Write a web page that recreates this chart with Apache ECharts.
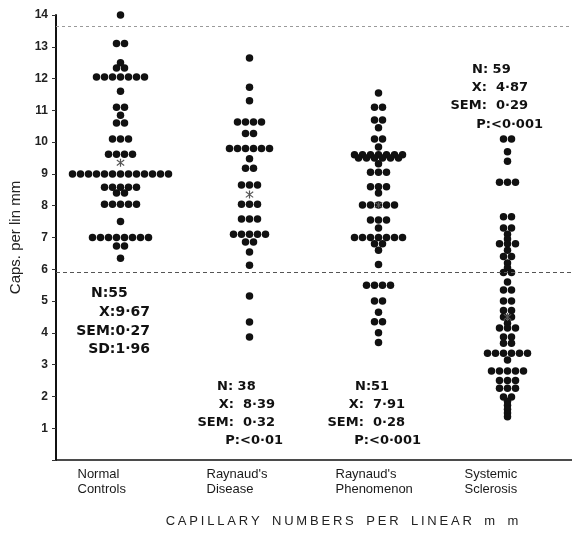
<!DOCTYPE html>
<html><head><meta charset="utf-8">
<script src="https://cdn.jsdelivr.net/npm/echarts@6/dist/echarts.min.js"></script>
<style>html,body{margin:0;padding:0;background:#fff}#c{width:572px;height:548px}</style>
</head><body><div id="c"></div>
<script>
// ---------------- data ----------------
const categories = ['Normal\nControls', "Raynaud's\nDisease", "Raynaud's\nPhenomenon", 'Systemic\nSclerosis'];

const normalControls = [
  14.0,
  13.1, 13.1,
  12.5,
  12.33, 12.33,
  12.05, 12.05, 12.05, 12.05, 12.05, 12.05, 12.05,
  11.6,
  11.1, 11.1,
  10.85,
  10.6, 10.6,
  10.1, 10.1, 10.1,
  9.62, 9.62, 9.62, 9.62,
  9.0, 9.0, 9.0, 9.0, 9.0, 9.0, 9.0, 9.0, 9.0, 9.0, 9.0, 9.0, 9.0,
  8.58, 8.58, 8.58, 8.58, 8.58,
  8.4, 8.4,
  8.05, 8.05, 8.05, 8.05, 8.05,
  7.5,
  7.0, 7.0, 7.0, 7.0, 7.0, 7.0, 7.0, 7.0,
  6.73, 6.73,
  6.35
];

const raynaudsDisease = [
  12.65, 11.73, 11.3,
  10.63, 10.63, 10.63, 10.63,
  10.27, 10.27,
  9.8, 9.8, 9.8, 9.8, 9.8, 9.8,
  9.48,
  9.18, 9.18,
  8.65, 8.65, 8.65,
  8.05, 8.05, 8.05,
  7.58, 7.58, 7.58,
  7.1, 7.1, 7.1, 7.1, 7.1,
  6.86, 6.86,
  6.54, 6.13, 5.16, 4.34, 3.87
];

const raynaudsPhenomenon = [
  11.55,
  11.1, 11.1,
  10.7, 10.7,
  10.45,
  10.1, 10.1,
  9.85,
  9.6, 9.6, 9.6, 9.6, 9.6, 9.6, 9.6,
  9.5, 9.5, 9.5, 9.5, 9.5, 9.5,
  9.32,
  9.05, 9.05, 9.05,
  8.6, 8.6, 8.6,
  8.4,
  8.02, 8.02, 8.02, 8.02, 8.02,
  7.55, 7.55, 7.55,
  7.3,
  7.0, 7.0, 7.0, 7.0, 7.0, 7.0, 7.0,
  6.8, 6.8,
  6.6, 6.15,
  5.5, 5.5, 5.5, 5.5,
  5.0, 5.0,
  4.65,
  4.35, 4.35,
  4.0, 3.7
];

const systemicSclerosis = [
  10.1, 10.1,
  9.7, 9.4,
  8.74, 8.74, 8.74,
  7.65, 7.65,
  7.3, 7.3,
  7.1, 6.95,
  6.8, 6.8, 6.8,
  6.6,
  6.4, 6.4,
  6.2, 6.05,
  5.9, 5.9,
  5.6,
  5.35, 5.35,
  5.0, 5.0,
  4.7, 4.7,
  4.5, 4.5,
  4.3,
  4.15, 4.15, 4.15,
  3.87, 3.87,
  3.67, 3.67,
  3.36, 3.36, 3.36, 3.36, 3.36, 3.36,
  3.15,
  2.8, 2.8, 2.8, 2.8, 2.8,
  2.5, 2.5, 2.5,
  2.26, 2.26, 2.26,
  1.98, 1.98,
  1.85, 1.72, 1.6, 1.48, 1.36
];

const groupMarks = [9.35, 8.35, 8.02, 4.5];     // asterisks drawn in each column
const normalRange = [13.65, 5.9];                // dotted horizontal reference lines
const yTickMax = 14;

const statsText = [
  ['N:55', 'X:9·67', 'SEM:0·27', 'SD:1·96'],
  ['N: 38', 'X:  8·39', 'SEM:  0·32', 'P:<0·01'],
  ['N:51', 'X:  7·91', 'SEM:  0·28', 'P:<0·001'],
  ['N: 59', 'X:  4·87', 'SEM:  0·29', 'P:<0·001']
];
const xTitle = 'CAPILLARY NUMBERS PER LINEAR m m';
const yTitle = 'Caps. per lin mm';

// ---------------- layout (not data) ----------------
const DOT = 7.5, GAP = 8;
const statsLayout = [
  {size: 14, lines: [[91, 293, 'left'], [150, 312, 'right'], [150, 331, 'right'], [150, 349, 'right']]},
  {size: 13, lines: [[217, 387, 'left'], [275, 405, 'right'], [275, 423, 'right'], [283, 441, 'right']]},
  {size: 13, lines: [[355, 387, 'left'], [405, 405, 'right'], [405, 423, 'right'], [421, 441, 'right']]},
  {size: 13, lines: [[472, 70, 'left'], [528, 88, 'right'], [528, 106, 'right'], [543, 125, 'right']]}
];

function swarm(values, ci) {
  const counts = {}, seen = {};
  values.forEach(v => { const k = v.toFixed(2); counts[k] = (counts[k] || 0) + 1; });
  return values.map(v => {
    const k = v.toFixed(2);
    const i = seen[k] = (seen[k] === undefined ? 0 : seen[k] + 1);
    const dx = (i - (counts[k] - 1) / 2) * GAP;
    return {value: [ci, v], symbolOffset: [dx, 0]};
  });
}

const groups = [normalControls, raynaudsDisease, raynaudsPhenomenon, systemicSclerosis];
const dotData = [];
groups.forEach((g, ci) => swarm(g, ci).forEach(d => dotData.push(d)));

const starPath = 'path://M4.3,0H5.7V10H4.3Z M0.3,2.1L1,0.9L9.7,7.9L9,9.1Z M0.3,7.9L9,0.9L9.7,2.1L1,9.1Z';

const graphics = [];
statsText.forEach((lines, gi) => {
  const L = statsLayout[gi];
  lines.forEach((t, li) => {
    const [x, y, al] = L.lines[li];
    graphics.push({type: 'text', x: x, y: y, silent: true,
      style: {text: t, align: al, verticalAlign: 'middle',
        font: 'bold ' + L.size + 'px "DejaVu Sans"', fill: '#111'}});
  });
});
const titleRich = xTitle.split('').map(ch => ch === ' ' ? '{s| }' : '{c|' + ch + '}').join('');
graphics.push({type: 'text', x: 342, y: 521, silent: true,
  style: {text: titleRich, align: 'center', verticalAlign: 'middle',
    rich: {c: {fontSize: 13, fontFamily: 'Liberation Sans', fill: '#222', padding: [0, 1.4]},
           s: {fontSize: 13, fontFamily: 'Liberation Sans', fill: '#222', padding: [0, 3]}}}});

const chart = echarts.init(document.getElementById('c'), null, {renderer: 'canvas'});
chart.setOption({
  animation: false,
  backgroundColor: '#fff',
  grid: {left: 55, right: -4, top: 15, bottom: 88, containLabel: false},
  xAxis: {
    type: 'category', data: categories, boundaryGap: true,
    axisLine: {lineStyle: {color: '#111', width: 1.5}},
    axisTick: {show: false},
    axisLabel: {
      margin: 7, interval: 0,
      formatter: v => v.split('\n').map(l => '{a|' + l + '}').join('\n'),
      rich: {a: {width: 86, align: 'left', fontSize: 13, lineHeight: 15, color: '#1a1a1a', fontFamily: 'Liberation Sans'}}
    },
    splitLine: {show: false}
  },
  yAxis: {
    type: 'value', min: 0, max: yTickMax, interval: 1,
    name: yTitle, nameLocation: 'middle', nameGap: 33, nameRotate: 90,
    nameTextStyle: {fontSize: 15, color: '#222', fontFamily: 'Liberation Sans'},
    axisLine: {show: true, lineStyle: {color: '#111', width: 2}},
    axisTick: {show: true, length: 4, lineStyle: {color: '#333'}},
    axisLabel: {margin: 8, fontSize: 12, fontWeight: 'bold', color: '#222', fontFamily: 'Liberation Sans',
      formatter: v => v === 0 ? '' : String(v)},
    splitLine: {show: false}
  },
  series: [
    {
      type: 'scatter', data: dotData, symbol: 'circle', symbolSize: DOT,
      itemStyle: {color: '#111', opacity: 1}, z: 3,
      markLine: {
        silent: true, symbol: 'none', label: {show: false},
        data: [
          {yAxis: normalRange[0], lineStyle: {type: [3, 3], color: '#9a9a9a', width: 1.2}},
          {yAxis: normalRange[1], lineStyle: {type: [4, 3], color: '#555', width: 1.2}}
        ]
      }
    },
    {
      type: 'scatter', data: groupMarks.map((v, i) => [i, v]), symbol: starPath, symbolSize: 8,
      itemStyle: {color: '#555', opacity: 1}, z: 4
    }
  ],
  graphic: graphics
});
</script></body></html>
